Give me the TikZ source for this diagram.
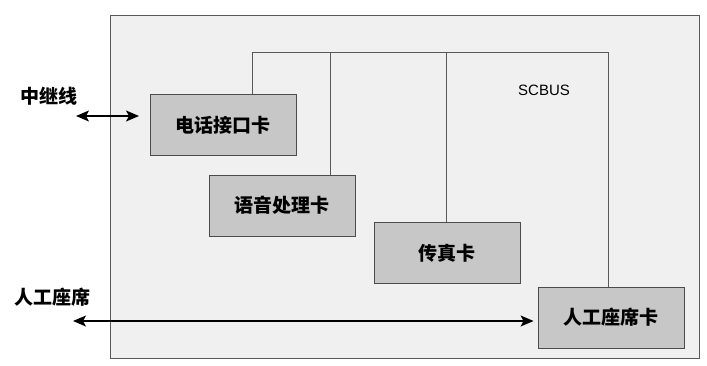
\documentclass[tikz,border=0pt]{standalone}
\usepackage{fontspec}
\setmainfont{Liberation Sans}
\newfontfamily\cjk{Noto Sans CJK SC}
\usetikzlibrary{arrows.meta}
\begin{document}
\begin{tikzpicture}[x=1pt,y=-1pt,
  card/.style={draw=black!70, fill=black!22, line width=0.9pt, minimum width=146pt, minimum height=61pt, inner sep=0pt, font=\cjk\fontsize{19}{21}\selectfont\bfseries},
  bus/.style={draw=black!65, line width=0.8pt},
  lbl/.style={font=\cjk\fontsize{19}{21}\selectfont\bfseries, inner sep=0pt},
  dbl/.style={line width=1.1pt, {Stealth[length=13pt,width=11pt,inset=3pt]}-{Stealth[length=13pt,width=11pt,inset=3pt]}}]
\useasboundingbox (0,0) rectangle (707,365);
\draw[draw=black!65, fill=black!6, line width=0.9pt] (110,15) rectangle (699,358);
\node[card] (tel) at (223,125) {电话接口卡};
\node[card] (voice) at (282,205.5) {语音处理卡};
\node[card] (fax) at (447,253) {传真卡};
\node[card] (agent) at (611,317.5) {人工座席卡};
\coordinate (b1) at (252,52);
\coordinate (b2) at (608,52);
\draw[bus] (tel.north -| b1) -- (b1) -- (b2) -- (agent.north -| b2);
\draw[bus] (330,52) -- (voice.north -| 330,0);
\draw[bus] (446,52) -- (fax.north -| 446,0);
\node[font=\fontsize{15}{17}\selectfont, inner sep=0pt] (scbus) at (544,90) {SCBUS};
\node[lbl] (trunk) at (49,96) {中继线};
\node[lbl] (seat) at (52,297) {人工座席};
\coordinate (t1) at (76,116);
\coordinate (t2) at (139,116);
\coordinate (s1) at (73,321);
\draw[dbl] (t1) -- (t2);
\draw[dbl] (s1) -- ([xshift=-4pt]agent.west |- s1);
\end{tikzpicture}
\end{document}
